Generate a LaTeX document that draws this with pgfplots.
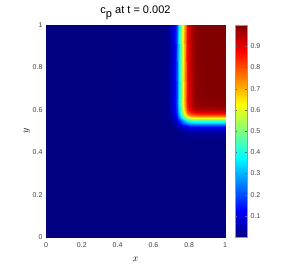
\documentclass[border=0pt]{standalone}
\usepackage{fontspec}
\setmainfont{Liberation Sans}
\usepackage{pgfplots}
\pgfplotsset{compat=1.18}
\begin{document}
\begin{tikzpicture}
\path[use as bounding box] (-46pt,-29pt) rectangle (253pt,237pt);
\begin{axis}[
  at={(0pt,0pt)}, anchor=south west,
  scale only axis, width=179pt, height=212pt,
  xmin=0, xmax=1, ymin=0, ymax=1,
  view={0}{90},
  colormap/jet, point meta min=0, point meta max=1,
  axis line style={draw=none},
  tick style={draw=none},
  xtick={0,0.2,0.4,0.6,0.8,1}, xticklabels={0,0.2,0.4,0.6,0.8,1},
  ytick={0,0.2,0.4,0.6,0.8,1}, yticklabels={0,0.2,0.4,0.6,0.8,1},
  tick label style={font=\fontsize{7}{7}\selectfont, text=black!75},
  xticklabel style={yshift=-2pt},
  xlabel={$x$}, ylabel={$y$},
  xlabel style={at={(axis description cs:0.5,0)}, anchor=center, yshift=-22pt},
  ylabel style={at={(axis description cs:0,0.5)}, anchor=center, yshift=19pt},
  title={c\raisebox{-0.8ex}{p} at t = 0.002},
  title style={at={(axis description cs:0.5,1)}, anchor=base, yshift=6pt, font=\fontsize{11}{11}\selectfont},
  colorbar,
  colorbar style={
    at={(parent axis.north east)}, anchor=north west, xshift=1.5pt,
    width=12pt,
    ytick={0.1,0.2,0.3,0.4,0.5,0.6,0.7,0.8,0.9},
    yticklabels={0.1,0.2,0.3,0.4,0.5,0.6,0.7,0.8,0.9},
    yticklabel style={font=\fontsize{7}{7}\selectfont, text=black!75},
    axis line style={draw=black!40},
    tick style={draw=black!60},
    major tick length=2pt,
  },
]
\addplot3[surf, shader=interp, mesh/cols=18] table[row sep=\\] {
x y z \\
0 0 0 \\ 0.65 0 0 \\ 0.68 0 0 \\ 0.70 0 0 \\ 0.71 0 0 \\ 0.72 0 0 \\ 0.73 0 0 \\ 0.74 0 0 \\ 0.75 0 0 \\ 0.76 0 0 \\ 0.77 0 0 \\ 0.78 0 0 \\ 0.79 0 0 \\ 0.80 0 0 \\ 0.82 0 0 \\ 0.84 0 0 \\ 0.87 0 0 \\ 1 0 0 \\
0 0.45 0 \\ 0.65 0.45 0 \\ 0.68 0.45 0 \\ 0.70 0.45 0 \\ 0.71 0.45 0 \\ 0.72 0.45 0 \\ 0.73 0.45 0 \\ 0.74 0.45 0.001 \\ 0.75 0.45 0.001 \\ 0.76 0.45 0.001 \\ 0.77 0.45 0.001 \\ 0.78 0.45 0.002 \\ 0.79 0.45 0.002 \\ 0.80 0.45 0.002 \\ 0.82 0.45 0.002 \\ 0.84 0.45 0.002 \\ 0.87 0.45 0.002 \\ 1 0.45 0.002 \\
0 0.48 0 \\ 0.65 0.48 0 \\ 0.68 0.48 0 \\ 0.70 0.48 0.001 \\ 0.71 0.48 0.001 \\ 0.72 0.48 0.002 \\ 0.73 0.48 0.003 \\ 0.74 0.48 0.004 \\ 0.75 0.48 0.006 \\ 0.76 0.48 0.007 \\ 0.77 0.48 0.009 \\ 0.78 0.48 0.010 \\ 0.79 0.48 0.011 \\ 0.80 0.48 0.012 \\ 0.82 0.48 0.013 \\ 0.84 0.48 0.013 \\ 0.87 0.48 0.013 \\ 1 0.48 0.013 \\
0 0.50 0 \\ 0.65 0.50 0 \\ 0.68 0.50 0.001 \\ 0.70 0.50 0.002 \\ 0.71 0.50 0.003 \\ 0.72 0.50 0.005 \\ 0.73 0.50 0.008 \\ 0.74 0.50 0.013 \\ 0.75 0.50 0.018 \\ 0.76 0.50 0.023 \\ 0.77 0.50 0.028 \\ 0.78 0.50 0.033 \\ 0.79 0.50 0.036 \\ 0.80 0.50 0.038 \\ 0.82 0.50 0.040 \\ 0.84 0.50 0.041 \\ 0.87 0.50 0.041 \\ 1 0.50 0.041 \\
0 0.51 0 \\ 0.65 0.51 0 \\ 0.68 0.51 0.001 \\ 0.70 0.51 0.004 \\ 0.71 0.51 0.006 \\ 0.72 0.51 0.010 \\ 0.73 0.51 0.015 \\ 0.74 0.51 0.022 \\ 0.75 0.51 0.032 \\ 0.76 0.51 0.041 \\ 0.77 0.51 0.051 \\ 0.78 0.51 0.058 \\ 0.79 0.51 0.063 \\ 0.80 0.51 0.067 \\ 0.82 0.51 0.071 \\ 0.84 0.51 0.072 \\ 0.87 0.51 0.073 \\ 1 0.51 0.073 \\
0 0.52 0 \\ 0.65 0.52 0 \\ 0.68 0.52 0.002 \\ 0.70 0.52 0.006 \\ 0.71 0.52 0.010 \\ 0.72 0.52 0.017 \\ 0.73 0.52 0.026 \\ 0.74 0.52 0.039 \\ 0.75 0.52 0.055 \\ 0.76 0.52 0.071 \\ 0.77 0.52 0.087 \\ 0.78 0.52 0.100 \\ 0.79 0.52 0.109 \\ 0.80 0.52 0.116 \\ 0.82 0.52 0.122 \\ 0.84 0.52 0.125 \\ 0.87 0.52 0.126 \\ 1 0.52 0.126 \\
0 0.53 0 \\ 0.65 0.53 0.001 \\ 0.68 0.53 0.004 \\ 0.70 0.53 0.010 \\ 0.71 0.53 0.017 \\ 0.72 0.53 0.027 \\ 0.73 0.53 0.043 \\ 0.74 0.53 0.064 \\ 0.75 0.53 0.090 \\ 0.76 0.53 0.119 \\ 0.77 0.53 0.145 \\ 0.78 0.53 0.166 \\ 0.79 0.53 0.182 \\ 0.80 0.53 0.192 \\ 0.82 0.53 0.203 \\ 0.84 0.53 0.207 \\ 0.87 0.53 0.209 \\ 1 0.53 0.209 \\
0 0.54 0 \\ 0.65 0.54 0.001 \\ 0.68 0.54 0.006 \\ 0.70 0.54 0.016 \\ 0.71 0.54 0.026 \\ 0.72 0.54 0.043 \\ 0.73 0.54 0.067 \\ 0.74 0.54 0.100 \\ 0.75 0.54 0.141 \\ 0.76 0.54 0.185 \\ 0.77 0.54 0.226 \\ 0.78 0.54 0.259 \\ 0.79 0.54 0.283 \\ 0.80 0.54 0.300 \\ 0.82 0.54 0.317 \\ 0.84 0.54 0.323 \\ 0.87 0.54 0.325 \\ 1 0.54 0.326 \\
0 0.55 0 \\ 0.65 0.55 0.001 \\ 0.68 0.55 0.008 \\ 0.70 0.55 0.023 \\ 0.71 0.55 0.038 \\ 0.72 0.55 0.062 \\ 0.73 0.55 0.097 \\ 0.74 0.55 0.145 \\ 0.75 0.55 0.204 \\ 0.76 0.55 0.266 \\ 0.77 0.55 0.325 \\ 0.78 0.55 0.373 \\ 0.79 0.55 0.408 \\ 0.80 0.55 0.432 \\ 0.82 0.55 0.456 \\ 0.84 0.55 0.465 \\ 0.87 0.55 0.469 \\ 1 0.55 0.470 \\
0 0.56 0 \\ 0.65 0.56 0.002 \\ 0.68 0.56 0.011 \\ 0.70 0.56 0.030 \\ 0.71 0.56 0.050 \\ 0.72 0.56 0.081 \\ 0.73 0.56 0.128 \\ 0.74 0.56 0.191 \\ 0.75 0.56 0.268 \\ 0.76 0.56 0.351 \\ 0.77 0.56 0.428 \\ 0.78 0.56 0.491 \\ 0.79 0.56 0.538 \\ 0.80 0.56 0.569 \\ 0.82 0.56 0.601 \\ 0.84 0.56 0.613 \\ 0.87 0.56 0.618 \\ 1 0.56 0.619 \\
0 0.57 0 \\ 0.65 0.57 0.002 \\ 0.68 0.57 0.013 \\ 0.70 0.57 0.037 \\ 0.71 0.57 0.061 \\ 0.72 0.57 0.098 \\ 0.73 0.57 0.154 \\ 0.74 0.57 0.230 \\ 0.75 0.57 0.324 \\ 0.76 0.57 0.424 \\ 0.77 0.57 0.518 \\ 0.78 0.57 0.594 \\ 0.79 0.57 0.650 \\ 0.80 0.57 0.687 \\ 0.82 0.57 0.726 \\ 0.84 0.57 0.741 \\ 0.87 0.57 0.747 \\ 1 0.57 0.748 \\
0 0.58 0 \\ 0.65 0.58 0.003 \\ 0.68 0.58 0.014 \\ 0.70 0.58 0.041 \\ 0.71 0.58 0.068 \\ 0.72 0.58 0.111 \\ 0.73 0.58 0.174 \\ 0.74 0.58 0.260 \\ 0.75 0.58 0.366 \\ 0.76 0.58 0.479 \\ 0.77 0.58 0.585 \\ 0.78 0.58 0.671 \\ 0.79 0.58 0.734 \\ 0.80 0.58 0.777 \\ 0.82 0.58 0.820 \\ 0.84 0.58 0.837 \\ 0.87 0.58 0.843 \\ 1 0.58 0.845 \\
0 0.59 0 \\ 0.65 0.59 0.003 \\ 0.68 0.59 0.015 \\ 0.70 0.59 0.045 \\ 0.71 0.59 0.074 \\ 0.72 0.59 0.119 \\ 0.73 0.59 0.187 \\ 0.74 0.59 0.280 \\ 0.75 0.59 0.394 \\ 0.76 0.59 0.515 \\ 0.77 0.59 0.629 \\ 0.78 0.59 0.722 \\ 0.79 0.59 0.790 \\ 0.80 0.59 0.835 \\ 0.82 0.59 0.883 \\ 0.84 0.59 0.900 \\ 0.87 0.59 0.907 \\ 1 0.59 0.909 \\
0 0.60 0 \\ 0.65 0.60 0.003 \\ 0.68 0.60 0.016 \\ 0.70 0.60 0.046 \\ 0.71 0.60 0.077 \\ 0.72 0.60 0.124 \\ 0.73 0.60 0.195 \\ 0.74 0.60 0.292 \\ 0.75 0.60 0.410 \\ 0.76 0.60 0.538 \\ 0.77 0.60 0.656 \\ 0.78 0.60 0.753 \\ 0.79 0.60 0.824 \\ 0.80 0.60 0.871 \\ 0.82 0.60 0.921 \\ 0.84 0.60 0.939 \\ 0.87 0.60 0.946 \\ 1 0.60 0.948 \\
0 0.62 0 \\ 0.65 0.62 0.003 \\ 0.68 0.62 0.017 \\ 0.70 0.62 0.048 \\ 0.71 0.62 0.080 \\ 0.72 0.62 0.129 \\ 0.73 0.62 0.203 \\ 0.74 0.62 0.303 \\ 0.75 0.62 0.426 \\ 0.76 0.62 0.558 \\ 0.77 0.62 0.681 \\ 0.78 0.62 0.781 \\ 0.79 0.62 0.855 \\ 0.80 0.62 0.904 \\ 0.82 0.62 0.955 \\ 0.84 0.62 0.974 \\ 0.87 0.62 0.982 \\ 1 0.62 0.984 \\
0 0.65 0 \\ 0.65 0.65 0.003 \\ 0.68 0.65 0.017 \\ 0.70 0.65 0.049 \\ 0.71 0.65 0.081 \\ 0.72 0.65 0.131 \\ 0.73 0.65 0.205 \\ 0.74 0.65 0.307 \\ 0.75 0.65 0.432 \\ 0.76 0.65 0.565 \\ 0.77 0.65 0.690 \\ 0.78 0.65 0.792 \\ 0.79 0.65 0.866 \\ 0.80 0.65 0.916 \\ 0.82 0.65 0.968 \\ 0.84 0.65 0.987 \\ 0.87 0.65 0.995 \\ 1 0.65 0.997 \\
0 1 0 \\ 0.65 1 0.003 \\ 0.68 1 0.017 \\ 0.70 1 0.049 \\ 0.71 1 0.081 \\ 0.72 1 0.131 \\ 0.73 1 0.206 \\ 0.74 1 0.308 \\ 0.75 1 0.433 \\ 0.76 1 0.567 \\ 0.77 1 0.692 \\ 0.78 1 0.794 \\ 0.79 1 0.869 \\ 0.80 1 0.919 \\ 0.82 1 0.971 \\ 0.84 1 0.990 \\ 0.87 1 0.998 \\ 1 1 1 \\
};
\end{axis}
\end{tikzpicture}
\end{document}
